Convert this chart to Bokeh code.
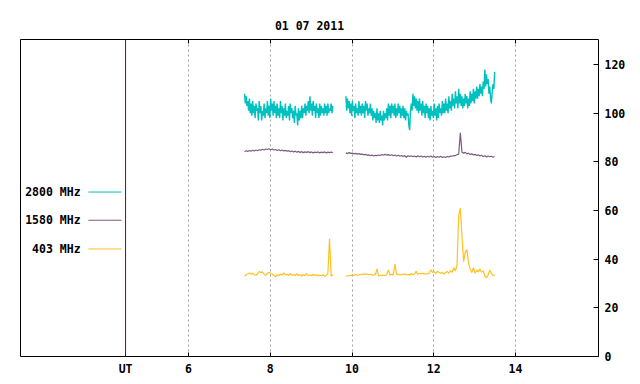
from bokeh.plotting import figure
from bokeh.models import (Range1d, LinearAxis, FixedTicker, Span, Label,
                          ColumnDataSource)
from bokeh.embed import file_html
from bokeh.resources import INLINE
import numpy as np

TITLE = "01 07 2011"
UT_POS = 4.46
X_TICKS = [UT_POS, 6, 8, 10, 12, 14]
X_TICK_LABELS = ["UT", "6", "8", "10", "12", "14"]
Y_TICKS = [0, 20, 40, 60, 80, 100, 120]
SERIES_NAMES = ["2800 MHz", "1580 MHz", "403 MHz"]
SERIES_COLORS = ["#00c0c0", "#7a5c7e", "#ffc020"]
SERIES_WIDTHS = [1.4, 1.2, 1.2]

SEG1_START = 7.37
SEG2_START = 9.85
STEP_FINE = 0.02   # 2800 MHz sampling
STEP = 0.04        # 1580 / 403 MHz sampling

# 2800 MHz
f2800_a = [108, 104, 107, 103, 105, 101, 106, 100, 104, 99,
           105, 100, 103, 98, 104, 101, 102, 97, 105, 100,
           103, 97, 101, 99, 104, 98, 102, 100, 105, 99,
           103, 98, 106, 101, 104, 99, 105, 100, 103, 98,
           104, 99, 102, 98, 105, 100, 103, 97, 102, 99,
           104, 98, 101, 99, 103, 97, 104, 100, 102, 98,
           101, 96, 103, 99, 100, 95, 102, 97, 101, 98,
           103, 98, 102, 100, 104, 99, 103, 101, 105, 100,
           107, 101, 104, 99, 105, 101, 103, 98, 104, 100,
           102, 98, 104, 99, 103, 100, 102, 99, 104, 100,
           103, 99, 104, 100, 102, 101, 104, 100, 103]
f2800_b = [107, 101, 106, 102, 105, 100, 104, 99, 105, 101,
           103, 98, 104, 100, 102, 99, 105, 100, 103, 99,
           104, 100, 103, 98, 105, 101, 104, 99, 102, 100,
           104, 99, 102, 97, 101, 98, 100, 96, 102, 97,
           100, 96, 101, 97, 99, 95, 101, 97, 100, 98,
           102, 97, 104, 99, 103, 98, 104, 100, 103, 99,
           104, 98, 102, 99, 104, 100, 103, 98, 102, 99,
           103, 98, 102, 97, 101, 99, 100, 95, 93, 101,
           104, 101, 108, 103, 107, 102, 106, 101, 105, 100,
           106, 101, 104, 99, 105, 100, 103, 98, 104, 100,
           103, 98, 102, 97, 103, 99, 101, 98, 104, 99,
           102, 97, 103, 98, 104, 100, 102, 99, 105, 100,
           104, 100, 106, 101, 104, 100, 107, 102, 105, 101,
           108, 103, 106, 102, 109, 104, 107, 102, 110, 104,
           108, 103, 107, 102, 106, 103, 108, 104, 107, 102,
           106, 103, 109, 104, 108, 105, 110, 104, 109, 106,
           111, 106, 110, 107, 112, 108, 111, 107, 113, 110,
           118, 111, 116, 112, 114, 108, 111, 106, 104, 109,
           112, 110, 117]
# 1580 MHz
f1580_a = [84.2, 84.6, 84.3, 84.7, 84.4, 84.8, 84.5, 84.9, 84.6, 85.0,
           84.8, 85.2, 84.9, 85.3, 85.1, 85.4, 85.0, 85.3, 84.9, 85.1,
           84.7, 85.0, 84.6, 84.9, 84.5, 84.7, 84.4, 84.6, 84.2, 84.5,
           84.1, 84.4, 84.0, 84.3, 83.9, 84.2, 83.8, 84.1, 83.9, 84.2,
           83.8, 84.1, 83.7, 84.0, 83.8, 84.1, 83.7, 84.0, 83.8, 84.1,
           83.7, 84.0, 83.8, 84.0, 83.8]
f1580_b = [83.7, 83.4, 83.8, 83.5, 83.6, 83.3, 83.5, 83.2, 83.4, 83.1,
           83.2, 82.9, 83.1, 82.7, 82.9, 82.5, 82.8, 82.4, 82.7, 82.5,
           82.8, 82.6, 83.0, 82.7, 83.1, 82.8, 83.0, 82.6, 82.9, 82.5,
           82.8, 82.4, 82.7, 82.3, 82.6, 82.2, 82.6, 81.9, 82.5, 82.2,
           82.5, 82.1, 82.4, 82.0, 82.5, 82.1, 82.4, 82.0, 82.3, 81.9,
           82.3, 82.0, 82.4, 81.9, 82.2, 81.8, 82.2, 81.9, 82.3, 81.8,
           82.1, 81.8, 82.2, 82.0, 82.4, 82.3, 82.6, 82.6, 82.9, 83.2,
           92.0, 84.0, 83.6, 83.9, 83.3, 83.6, 83.0, 83.3, 82.8, 83.1,
           82.6, 82.9, 82.4, 82.7, 82.2, 82.5, 82.0, 82.4, 82.1, 82.3,
           81.9, 82.2]
# 403 MHz
f403_a = [33.0, 33.6, 33.9, 34.3, 33.8, 34.2, 33.6, 33.4, 34.0, 34.9,
          34.5, 34.8, 33.8, 33.4, 34.2, 34.6, 34.1, 33.9, 33.3, 32.8,
          33.6, 33.2, 33.9, 33.4, 34.4, 33.5, 33.8, 33.3, 34.1, 33.4,
          33.7, 33.2, 34.0, 33.3, 33.6, 33.1, 33.7, 33.2, 34.1, 33.3,
          33.5, 33.2, 33.8, 33.3, 33.6, 33.1, 33.5, 33.2, 33.6, 32.9,
          33.3, 34.2, 48.4, 33.0, 33.6]
f403_b = [33.2, 33.0, 33.4, 33.2, 33.6, 33.3, 33.7, 33.4, 33.5, 33.8,
          33.6, 34.0, 33.7, 33.9, 33.6, 33.8, 33.4, 33.6, 33.5, 36.0,
          33.1, 33.4, 33.2, 33.5, 33.3, 33.6, 35.6, 33.5, 33.9, 33.4,
          38.0, 33.7, 33.9, 33.5, 33.8, 33.6, 34.0, 33.5, 33.8, 33.4,
          34.1, 33.6, 34.0, 35.0, 33.8, 34.2, 33.9, 34.3, 33.8, 34.1,
          33.9, 34.4, 35.6, 34.5, 34.9, 34.2, 35.0, 34.6, 34.2, 34.5,
          33.9, 34.4, 35.0, 34.2, 35.3, 34.6, 36.5, 35.2, 37.8, 58.0,
          61.0, 49.5, 39.0, 42.8, 44.0, 38.5, 36.0, 34.5, 36.5, 34.2,
          35.5, 34.8, 36.0, 34.6, 35.2, 33.0, 32.3, 33.6, 35.5, 34.2,
          33.2, 33.5]

SERIES = [(f2800_a, f2800_b, STEP_FINE), (f1580_a, f1580_b, STEP),
          (f403_a, f403_b, STEP)]

# legend layout (data units)
LEG_TEXT_X = 3.36
LEG_LINE_X0, LEG_LINE_X1 = 3.55, 4.36
LEG_Y = [67.6, 56.0, 44.2]

FONT = "DejaVu Sans Mono"
FS = "11.5px"

p = figure(width=640, height=384, output_backend="svg", toolbar_location=None,
           x_range=Range1d(1.89, 16.03), y_range=Range1d(0, 130.3),
           y_axis_location="right", min_border_left=20, min_border_right=42,
           min_border_top=39, min_border_bottom=28)
p.background_fill_color = "white"
p.border_fill_color = "white"
p.outline_line_color = "black"
p.outline_line_alpha = 1
p.outline_line_width = 1

p.title.text = TITLE
p.title.align = "center"
p.title.vertical_align = "top"
p.title.text_font = FONT
p.title.text_font_size = FS
p.title.text_font_style = "bold"
p.title.text_color = "black"
p.title.standoff = 10

xa = p.xaxis[0]
xa.ticker = FixedTicker(ticks=X_TICKS)
xa.major_label_overrides = {t: l for t, l in zip(X_TICKS, X_TICK_LABELS)}
xa.major_tick_in = 4
xa.major_tick_out = 0
xa.minor_tick_line_color = None
xa.axis_line_color = None
xa.major_tick_line_color = "black"
xa.major_label_text_font = FONT
xa.major_label_text_font_size = FS
xa.major_label_text_font_style = "bold"
xa.major_label_text_color = "black"
xa.major_label_standoff = 5

ya = p.yaxis[0]
ya.ticker = FixedTicker(ticks=Y_TICKS)
ya.major_tick_in = 5
ya.major_tick_out = 0
ya.minor_tick_line_color = None
ya.axis_line_color = None
ya.major_tick_line_color = "black"
ya.major_label_text_font = FONT
ya.major_label_text_font_size = FS
ya.major_label_text_font_style = "bold"
ya.major_label_text_color = "black"
ya.major_label_standoff = 6

top_ticks = X_TICKS[1:]
top = LinearAxis(ticker=FixedTicker(ticks=top_ticks), major_tick_in=4,
                 major_tick_out=0, minor_tick_line_color=None,
                 axis_line_color=None,
                 major_label_overrides={t: "" for t in top_ticks},
                 major_label_standoff=0)
p.add_layout(top, "above")

p.ygrid.visible = False
p.xgrid.ticker = FixedTicker(ticks=top_ticks)
p.xgrid.grid_line_color = "#a0a0a0"
p.xgrid.grid_line_dash = "2 3"
p.xgrid.grid_line_width = 1

for (sa, sb, step), col, lw in zip(SERIES, SERIES_COLORS, SERIES_WIDTHS):
    for start, vals in ((SEG1_START, sa), (SEG2_START, sb)):
        t = start + step * np.arange(len(vals))
        src = ColumnDataSource(dict(t=t, v=vals))
        p.line("t", "v", source=src, line_color=col, line_width=lw)

p.add_layout(Span(location=UT_POS, dimension="height", line_color="#900000",
                  line_width=1))

for name, col, y in zip(SERIES_NAMES, SERIES_COLORS, LEG_Y):
    p.add_layout(Label(x=LEG_TEXT_X, y=y, text=name, text_align="right",
                       text_baseline="middle", text_font=FONT, text_font_size=FS,
                       text_font_style="bold", text_color="black"))
    p.segment(x0=[LEG_LINE_X0], x1=[LEG_LINE_X1], y0=[y], y1=[y],
              line_color=col, line_width=1)

open("out.html", "w").write(file_html(p, INLINE))
